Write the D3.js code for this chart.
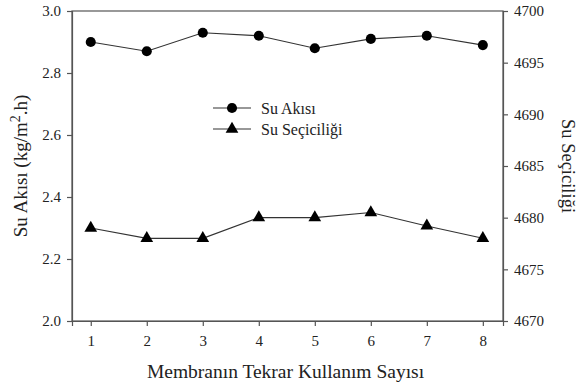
<!DOCTYPE html>
<html>
<head>
<meta charset="utf-8">
<script src="https://cdn.jsdelivr.net/npm/d3@7"></script>
<style>
  html, body { margin: 0; padding: 0; background: #fff; }
  svg { display: block; }
  text { font-family: "Liberation Serif", "Times New Roman", serif; fill: #222; }
</style>
</head>
<body>
<svg id="chart" width="581" height="388"></svg>
<script>
// Reuse count of the membrane
const runs = [1, 2, 3, 4, 5, 6, 7, 8];
// Water flux (kg/m2.h), left axis
const flux = [2.90, 2.87, 2.93, 2.92, 2.88, 2.91, 2.92, 2.89];
// Water selectivity, right axis
const selectivity = [4679.0, 4678.0, 4678.0, 4680.0, 4680.0, 4680.5, 4679.2, 4678.0];

const leftTicks = [2.0, 2.2, 2.4, 2.6, 2.8, 3.0];
const rightTicks = [4670, 4675, 4680, 4685, 4690, 4695, 4700];

const svg = d3.select("#chart");
const plotL = 72, plotR = 503, plotT = 11, plotB = 321;
const axisColor = "#555";

const x = d3.scaleLinear().domain([0.665, 8.36]).range([plotL, plotR]);
const yL = d3.scaleLinear().domain([2.0, 3.0]).range([plotB, plotT]);
const yR = d3.scaleLinear().domain([4670, 4700]).range([plotB, plotT]);

// frame
svg.append("rect")
  .attr("x", plotL).attr("y", plotT)
  .attr("width", plotR - plotL).attr("height", plotB - plotT)
  .attr("fill", "none").attr("stroke", axisColor).attr("stroke-width", 1.2);

function styleAxis(g) {
  g.select(".domain").attr("stroke", axisColor).attr("stroke-width", 1.2);
  g.selectAll(".tick line").attr("stroke", axisColor).attr("stroke-width", 1.2);
  g.selectAll(".tick text").attr("font-size", 15).attr("fill", "#222")
    .style("font-family", '"Liberation Serif", "Times New Roman", serif');
}

svg.append("g")
  .attr("transform", `translate(${plotL},0)`)
  .call(d3.axisLeft(yL).tickValues(leftTicks).tickFormat(d3.format(".1f")).tickSize(5).tickPadding(6))
  .call(styleAxis);

svg.append("g")
  .attr("transform", `translate(${plotR},0)`)
  .call(d3.axisRight(yR).tickValues(rightTicks).tickFormat(d3.format("d")).tickSize(5).tickPadding(6))
  .call(styleAxis);

svg.append("g")
  .attr("transform", `translate(0,${plotB})`)
  .call(d3.axisBottom(x).tickValues(runs).tickFormat(d3.format("d")).tickSize(5).tickPadding(9))
  .call(styleAxis);

// series lines
const lineL = d3.line().x((d, i) => x(runs[i])).y(d => yL(d));
const lineR = d3.line().x((d, i) => x(runs[i])).y(d => yR(d));

svg.append("path").datum(flux).attr("d", lineL)
  .attr("fill", "none").attr("stroke", "#333").attr("stroke-width", 1.1);
svg.append("path").datum(selectivity).attr("d", lineR)
  .attr("fill", "none").attr("stroke", "#333").attr("stroke-width", 1.1);

const circle = d3.symbol().type(d3.symbolCircle).size(80);
const tri = d3.symbol().type(d3.symbolTriangle).size(70);

svg.selectAll(".pt-flux").data(flux).join("path")
  .attr("class", "pt-flux")
  .attr("d", circle)
  .attr("transform", (d, i) => `translate(${x(runs[i])},${yL(d)})`)
  .attr("fill", "#000");

svg.selectAll(".pt-sel").data(selectivity).join("path")
  .attr("class", "pt-sel")
  .attr("d", tri)
  .attr("transform", (d, i) => `translate(${x(runs[i])},${yR(d)})`)
  .attr("fill", "#000");

// legend
const legend = [
  { name: "Su Akısı", sym: circle },
  { name: "Su Seçiciliği", sym: tri }
];
const lg = svg.append("g").attr("transform", "translate(213,108)");
legend.forEach((s, i) => {
  const row = lg.append("g").attr("transform", `translate(0,${i * 21})`);
  row.append("line").attr("x1", 0).attr("x2", 38).attr("y1", 0).attr("y2", 0)
    .attr("stroke", "#333").attr("stroke-width", 1.1);
  row.append("path").attr("d", s.sym).attr("transform", "translate(19,0)").attr("fill", "#000");
  row.append("text").attr("x", 48).attr("y", 5.5).attr("font-size", 16).text(s.name);
});

// axis titles
svg.append("text")
  .attr("x", (plotL + plotR) / 2 - 2).attr("y", 378)
  .attr("text-anchor", "middle").attr("font-size", 19.5)
  .text("Membranın Tekrar Kullanım Sayısı");

const yTitle = svg.append("text")
  .attr("transform", `translate(27,${(plotT + plotB) / 2}) rotate(-90)`)
  .attr("text-anchor", "middle").attr("font-size", 19);
yTitle.append("tspan").text("Su Akısı (kg/m");
yTitle.append("tspan").attr("dy", -7).attr("font-size", 14).text("2");
yTitle.append("tspan").attr("dy", 7).text(".h)");

svg.append("text")
  .attr("transform", `translate(562,${(plotT + plotB) / 2}) rotate(90)`)
  .attr("text-anchor", "middle").attr("font-size", 18.5)
  .text("Su Seçiciliği");
</script>
</body>
</html>
